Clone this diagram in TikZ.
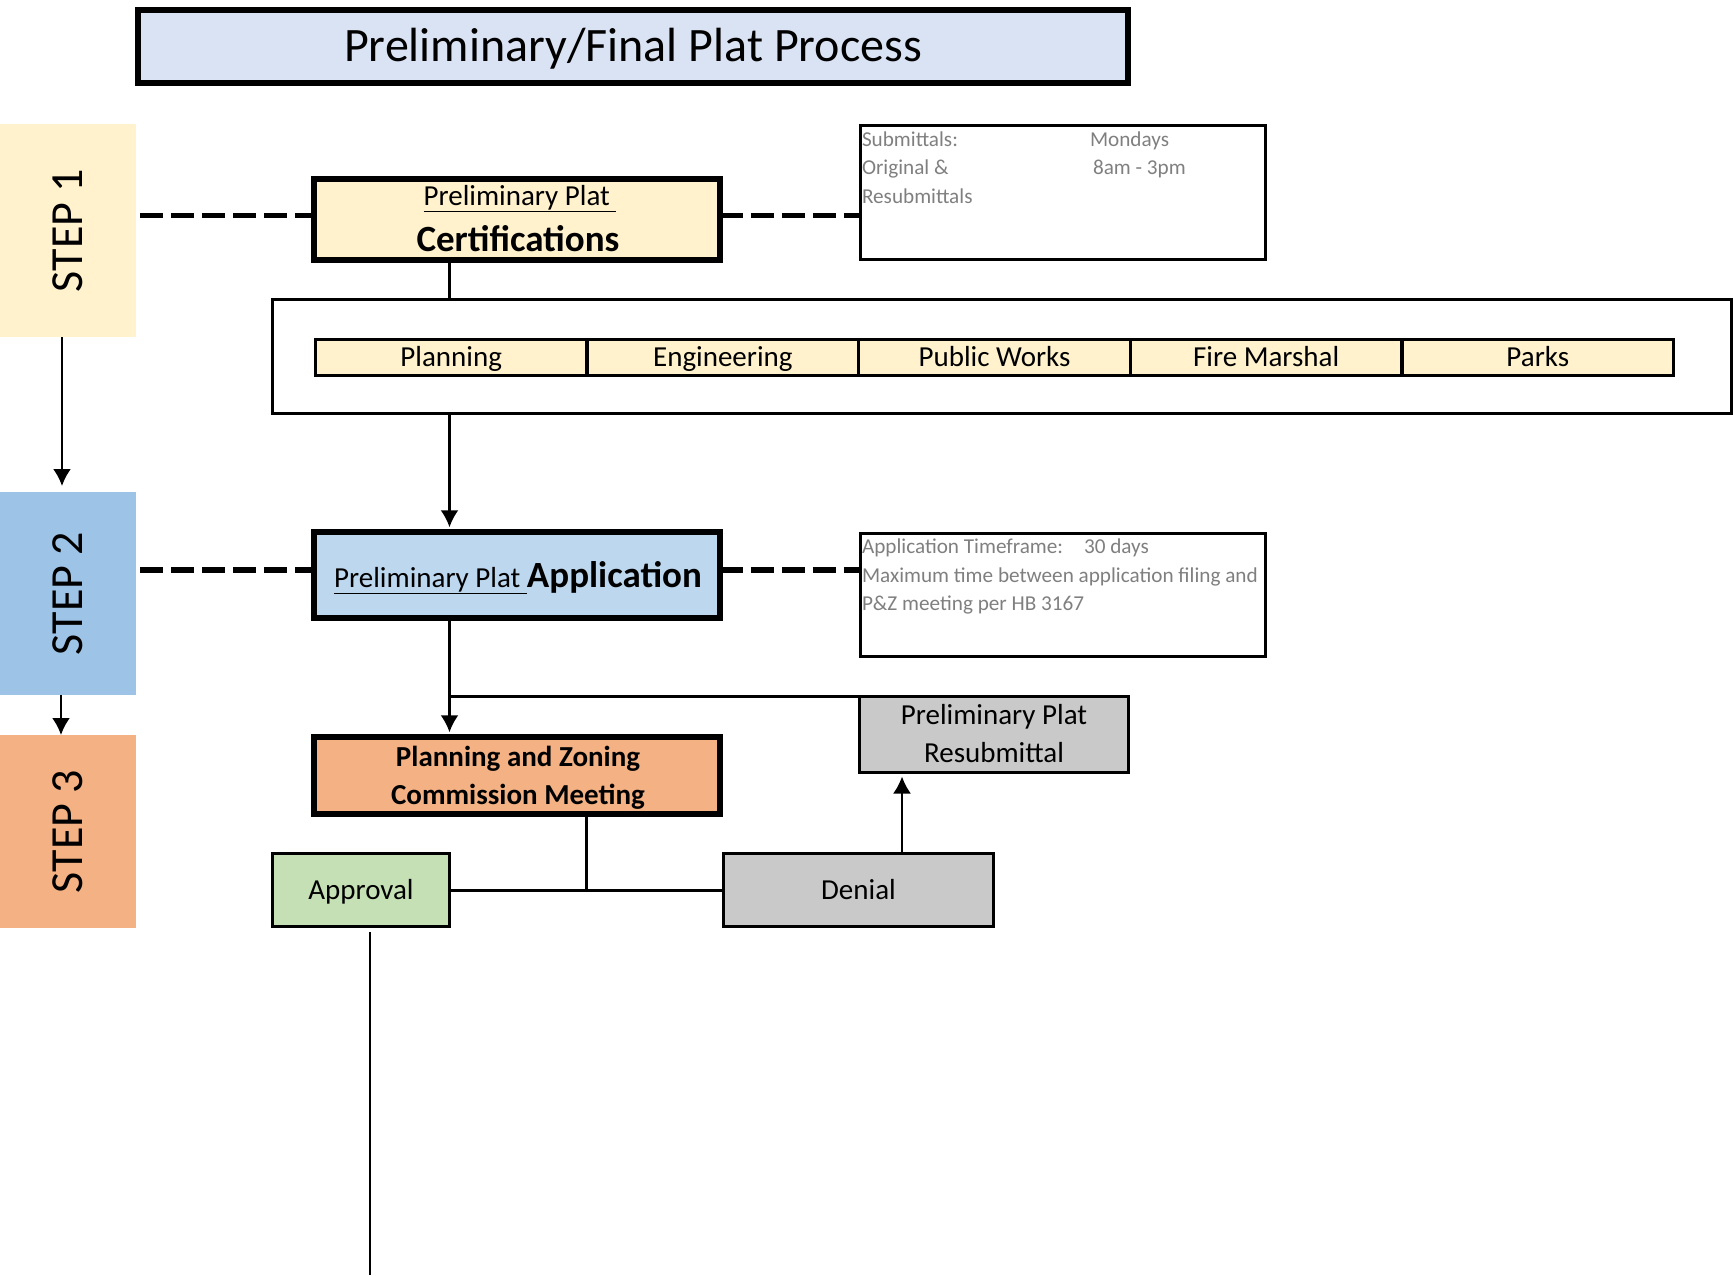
\documentclass[tikz,border=0pt]{standalone}
\usepackage{fontspec}
\setmainfont{Carlito}
\usetikzlibrary{arrows.meta}
\definecolor{titlefill}{HTML}{DAE3F3}
\definecolor{yellowfill}{HTML}{FFF2CC}
\definecolor{bluefill}{HTML}{BDD7EE}
\definecolor{steptwo}{HTML}{9DC3E6}
\definecolor{orangefill}{HTML}{F4B183}
\definecolor{greenfill}{HTML}{C5E0B4}
\definecolor{grayfill}{HTML}{C9C9C9}
\definecolor{infogray}{HTML}{7F7F7F}
\newcommand{\fsz}[1]{\fontsize{#1}{#1}\selectfont}
\begin{document}
\begin{tikzpicture}[x=1pt,y=-1pt,
  every node/.style={inner sep=0pt, outer sep=0pt},
  band/.style={rectangle, minimum width=136pt},
  steptext/.style={rotate=90, font=\fsz{46}},
  thickbox/.style={draw=black, line width=5.6pt, rectangle},
  medbox/.style={draw=black, line width=3.4pt, rectangle},
  infobox/.style={draw=black, line width=3.3pt, rectangle},
  capc/.style={text height=18.7pt, text depth=0pt, font=\fsz{29}},
  dept/.style={draw=black, line width=3.3pt, fill=yellowfill, minimum width=271.64pt, minimum height=36pt, capc},
  dashline/.style={line width=5.6pt, dash pattern=on 23pt off 8pt},
  conn/.style={line width=3pt},
  arr/.style={line width=2.2pt, -{Latex[length=17pt,width=18pt]}},
  info/.style={anchor=base west, text=infogray, font=\fsz{21.2}},
  txt/.style={anchor=base, font=\fsz{29}},
  btxt/.style={anchor=base, font=\fsz{29}\bfseries},
]
\useasboundingbox (0,0) rectangle (1733,1275);

% title
\node[draw=black, line width=6pt, fill=titlefill, minimum width=990pt, minimum height=73.5pt] (title) at (633,46.5) {};
\node[anchor=base, font=\fsz{48}] (titletext) at (633,61.5) {Preliminary/Final Plat Process};

% step bands
\node[band, fill=yellowfill, minimum height=213pt] (s1) at (68,230.5) {};
\node[steptext] (s1t) at (s1.center) {STEP 1};
\node[band, fill=steptwo, minimum height=203pt] (s2) at (68,593.5) {};
\node[steptext] (s2t) at (s2.center) {STEP 2};
\node[band, fill=orangefill, minimum height=193pt] (s3) at (68,831.5) {};
\node[steptext] (s3t) at (s3.center) {STEP 3};

% certifications
\node[thickbox, fill=yellowfill, minimum width=405.5pt, minimum height=81.5pt] (cert) at (517,219.5) {};
\node[txt] (certa) at (520,205) {\underline{Preliminary Plat\ }};
\node[anchor=base, font=\fsz{37}\bfseries] (certb) at (518,251) {Certifications};

% submittals info
\node[infobox, minimum width=405pt, minimum height=134pt] (subm) at (1063,192.5) {};
\node[info] (sub1) at (862,146) {Submittals:};
\node[info] (sub2) at (862,174) {Original \&};
\node[info] (sub3) at (862,203) {Resubmittals};
\node[info] (sub4) at (1090,146) {Mondays};
\node[info] (sub5) at (1093,174) {8am - 3pm};

% departments
\node[draw=black, line width=3pt, minimum width=1459pt, minimum height=114pt] (big) at (1002,356.5) {};
\node[dept] (d1) at (451.22,357.5) {Planning};
\node[dept] (d2) at (722.86,357.5) {Engineering};
\node[dept] (d3) at (994.5,357.5) {Public Works};
\node[dept] (d4) at (1266.14,357.5) {Fire Marshal};
\node[dept] (d5) at (1537.78,357.5) {Parks};

% application
\node[thickbox, fill=bluefill, minimum width=405.5pt, minimum height=85.5pt] (app) at (517,575) {};
\node[anchor=base] (apptext) at (518,587) {\fsz{29}\underline{Preliminary Plat\ }\fsz{37}\bfseries Application};

\node[infobox, minimum width=405pt, minimum height=123pt] (tf) at (1063,595) {};
\node[info] (tf1) at (862,553) {Application Timeframe:};
\node[info] (tf2) at (1084,553) {30 days};
\node[info] (tf3) at (862,582) {Maximum time between application filing and};
\node[info] (tf4) at (862,610) {P\&Z meeting per HB 3167};

% step 3
\node[thickbox, fill=orangefill, minimum width=405.5pt, minimum height=76.5pt] (pz) at (517,775.5) {};
\node[btxt] (pza) at (518,766.3) {Planning and Zoning};
\node[btxt] (pzb) at (518,804.3) {Commission Meeting};

\node[medbox, fill=grayfill, minimum width=269pt, minimum height=76pt] (resub) at (994,734.5) {};
\node[txt] (resuba) at (994,724.3) {Preliminary Plat};
\node[txt] (resubb) at (994,762.3) {Resubmittal};

\node[medbox, fill=greenfill, capc, minimum width=177pt, minimum height=73pt] (appr) at (361,890) {Approval};
\node[medbox, fill=grayfill, capc, minimum width=270pt, minimum height=73pt] (den) at (858.5,890) {Denial};

% coordinates
\coordinate (cx) at (449.5,0);
\coordinate (a1) at (62,486);
\coordinate (a2x) at (61,0);
\coordinate (d1) at (140,215.5);
\coordinate (d2) at (140,570);
\coordinate (pzx) at (586,0);
\coordinate (dx) at (902,0);
\coordinate (apb) at (370,932);
\coordinate (bot) at (370,1275);

% step arrows
\draw[arr] (s1.south -| a1) -- (a1);
\draw[arr] (s2.south -| a2x) -- (s3.north -| a2x);

% dashed
\draw[dashline] (d1) -- (d1 -| cert.west);
\draw[dashline] (d1 -| cert.east) -- (d1 -| subm.west);
\draw[dashline] (d2) -- (d2 -| app.west);
\draw[dashline] (d2 -| app.east) -- (d2 -| tf.west);

% connectors
\draw[line width=2.4pt] (cert.south -| cx) -- (big.north -| cx);
\draw[arr, shorten >=5pt] (big.south -| cx) -- (app.north -| cx);
\draw[arr, shorten >=5pt] (app.south -| cx) -- (pz.north -| cx);
\draw[line width=2.4pt] (resub.north west) -- (resub.north west -| cx);
\draw[conn] (pz.south -| pzx) -- (pzx |- appr.east);
\draw[conn] (appr.east) -- (den.west);
\draw[arr, shorten >=4pt] (den.north -| dx) -- (resub.south -| dx);
\draw[line width=1.6pt] (apb) -- (bot);
\end{tikzpicture}
\end{document}
